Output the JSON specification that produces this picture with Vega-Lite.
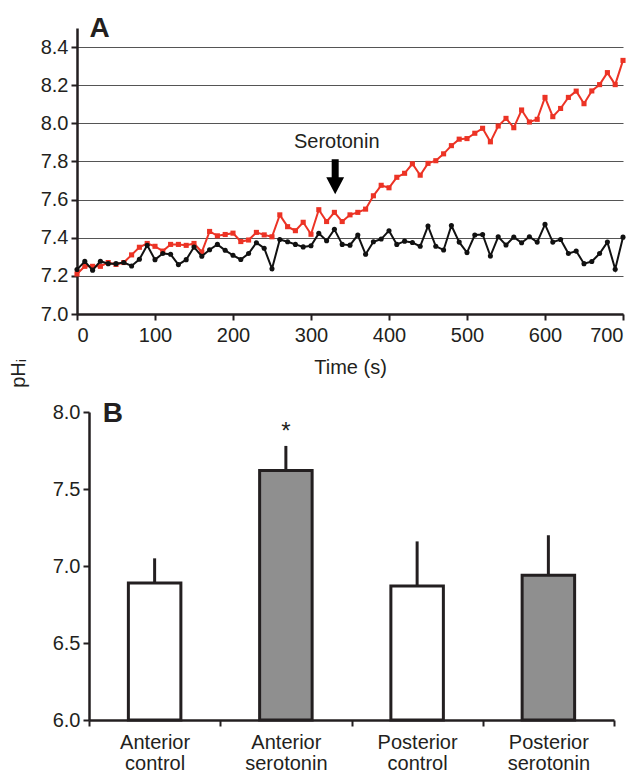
{
  "$schema": "https://vega.github.io/schema/vega-lite/v6.json",
  "padding": {"left": 8, "top": 15, "right": 10, "bottom": 0},
  "spacing": 12,
  "config": {
    "font": "Liberation Sans",
    "view": {"stroke": null},
    "axis": {
      "domainColor": "#231f20", "domainWidth": 2.5,
      "tickColor": "#231f20", "tickWidth": 2, "tickSize": 6,
      "labelFontSize": 20, "labelColor": "#231f20",
      "titleFontSize": 20, "titleFontWeight": "normal", "titleColor": "#231f20"
    }
  },
  "datasets": {
    "ph": [
      {"t":0,"s":"serotonin","pH":7.21},{"t":10,"s":"serotonin","pH":7.25},{"t":20,"s":"serotonin","pH":7.25},{"t":30,"s":"serotonin","pH":7.25},{"t":40,"s":"serotonin","pH":7.27},{"t":50,"s":"serotonin","pH":7.26},{"t":60,"s":"serotonin","pH":7.27},{"t":70,"s":"serotonin","pH":7.31},{"t":80,"s":"serotonin","pH":7.35},{"t":90,"s":"serotonin","pH":7.37},
      {"t":100,"s":"serotonin","pH":7.355},{"t":110,"s":"serotonin","pH":7.33},{"t":120,"s":"serotonin","pH":7.365},{"t":130,"s":"serotonin","pH":7.365},{"t":140,"s":"serotonin","pH":7.36},{"t":150,"s":"serotonin","pH":7.37},{"t":160,"s":"serotonin","pH":7.325},{"t":170,"s":"serotonin","pH":7.433},{"t":180,"s":"serotonin","pH":7.41},{"t":190,"s":"serotonin","pH":7.417},
      {"t":200,"s":"serotonin","pH":7.424},{"t":210,"s":"serotonin","pH":7.38},{"t":220,"s":"serotonin","pH":7.388},{"t":230,"s":"serotonin","pH":7.428},{"t":240,"s":"serotonin","pH":7.415},{"t":250,"s":"serotonin","pH":7.405},{"t":260,"s":"serotonin","pH":7.52},{"t":270,"s":"serotonin","pH":7.458},{"t":280,"s":"serotonin","pH":7.437},{"t":290,"s":"serotonin","pH":7.481},
      {"t":300,"s":"serotonin","pH":7.418},{"t":310,"s":"serotonin","pH":7.547},{"t":320,"s":"serotonin","pH":7.485},{"t":330,"s":"serotonin","pH":7.533},{"t":340,"s":"serotonin","pH":7.485},{"t":350,"s":"serotonin","pH":7.52},{"t":360,"s":"serotonin","pH":7.533},{"t":370,"s":"serotonin","pH":7.55},{"t":380,"s":"serotonin","pH":7.62},{"t":390,"s":"serotonin","pH":7.675},
      {"t":400,"s":"serotonin","pH":7.662},{"t":410,"s":"serotonin","pH":7.717},{"t":420,"s":"serotonin","pH":7.738},{"t":430,"s":"serotonin","pH":7.788},{"t":440,"s":"serotonin","pH":7.728},{"t":450,"s":"serotonin","pH":7.79},{"t":460,"s":"serotonin","pH":7.804},{"t":470,"s":"serotonin","pH":7.84},{"t":480,"s":"serotonin","pH":7.883},{"t":490,"s":"serotonin","pH":7.917},
      {"t":500,"s":"serotonin","pH":7.92},{"t":510,"s":"serotonin","pH":7.948},{"t":520,"s":"serotonin","pH":7.974},{"t":530,"s":"serotonin","pH":7.903},{"t":540,"s":"serotonin","pH":7.986},{"t":550,"s":"serotonin","pH":8.026},{"t":560,"s":"serotonin","pH":7.977},{"t":570,"s":"serotonin","pH":8.07},{"t":580,"s":"serotonin","pH":8.007},{"t":590,"s":"serotonin","pH":8.021},
      {"t":600,"s":"serotonin","pH":8.136},{"t":610,"s":"serotonin","pH":8.035},{"t":620,"s":"serotonin","pH":8.078},{"t":630,"s":"serotonin","pH":8.136},{"t":640,"s":"serotonin","pH":8.169},{"t":650,"s":"serotonin","pH":8.103},{"t":660,"s":"serotonin","pH":8.17},{"t":670,"s":"serotonin","pH":8.203},{"t":680,"s":"serotonin","pH":8.266},{"t":690,"s":"serotonin","pH":8.203},{"t":700,"s":"serotonin","pH":8.33},
      {"t":0,"s":"control","pH":7.233},{"t":10,"s":"control","pH":7.276},{"t":20,"s":"control","pH":7.23},{"t":30,"s":"control","pH":7.277},{"t":40,"s":"control","pH":7.264},{"t":50,"s":"control","pH":7.264},{"t":60,"s":"control","pH":7.27},{"t":70,"s":"control","pH":7.252},{"t":80,"s":"control","pH":7.287},{"t":90,"s":"control","pH":7.36},
      {"t":100,"s":"control","pH":7.285},{"t":110,"s":"control","pH":7.317},{"t":120,"s":"control","pH":7.313},{"t":130,"s":"control","pH":7.259},{"t":140,"s":"control","pH":7.285},{"t":150,"s":"control","pH":7.351},{"t":160,"s":"control","pH":7.303},{"t":170,"s":"control","pH":7.337},{"t":180,"s":"control","pH":7.365},{"t":190,"s":"control","pH":7.334},
      {"t":200,"s":"control","pH":7.308},{"t":210,"s":"control","pH":7.286},{"t":220,"s":"control","pH":7.317},{"t":230,"s":"control","pH":7.374},{"t":240,"s":"control","pH":7.345},{"t":250,"s":"control","pH":7.237},{"t":260,"s":"control","pH":7.391},{"t":270,"s":"control","pH":7.379},{"t":280,"s":"control","pH":7.365},{"t":290,"s":"control","pH":7.352},
      {"t":300,"s":"control","pH":7.358},{"t":310,"s":"control","pH":7.423},{"t":320,"s":"control","pH":7.384},{"t":330,"s":"control","pH":7.444},{"t":340,"s":"control","pH":7.365},{"t":350,"s":"control","pH":7.361},{"t":360,"s":"control","pH":7.414},{"t":370,"s":"control","pH":7.313},{"t":380,"s":"control","pH":7.379},{"t":390,"s":"control","pH":7.393},
      {"t":400,"s":"control","pH":7.437},{"t":410,"s":"control","pH":7.365},{"t":420,"s":"control","pH":7.382},{"t":430,"s":"control","pH":7.375},{"t":440,"s":"control","pH":7.355},{"t":450,"s":"control","pH":7.461},{"t":460,"s":"control","pH":7.355},{"t":470,"s":"control","pH":7.336},{"t":480,"s":"control","pH":7.464},{"t":490,"s":"control","pH":7.377},
      {"t":500,"s":"control","pH":7.322},{"t":510,"s":"control","pH":7.414},{"t":520,"s":"control","pH":7.417},{"t":530,"s":"control","pH":7.304},{"t":540,"s":"control","pH":7.405},{"t":550,"s":"control","pH":7.362},{"t":560,"s":"control","pH":7.403},{"t":570,"s":"control","pH":7.374},{"t":580,"s":"control","pH":7.405},{"t":590,"s":"control","pH":7.377},
      {"t":600,"s":"control","pH":7.47},{"t":610,"s":"control","pH":7.377},{"t":620,"s":"control","pH":7.391},{"t":630,"s":"control","pH":7.317},{"t":640,"s":"control","pH":7.33},{"t":650,"s":"control","pH":7.264},{"t":660,"s":"control","pH":7.275},{"t":670,"s":"control","pH":7.317},{"t":680,"s":"control","pH":7.377},{"t":690,"s":"control","pH":7.235},{"t":700,"s":"control","pH":7.403}
    ],
    "bars": [
      {"group":"Anterior control","treatment":"control","mean":6.89,"upper":7.04,"sig":""},
      {"group":"Anterior serotonin","treatment":"serotonin","mean":7.62,"upper":7.77,"sig":"*"},
      {"group":"Posterior control","treatment":"control","mean":6.87,"upper":7.15,"sig":""},
      {"group":"Posterior serotonin","treatment":"serotonin","mean":6.94,"upper":7.19,"sig":""}
    ]
  },
  "vconcat": [
    {
      "width": 546,
      "height": 286,
      "encoding": {
        "x": {"field": "t", "type": "quantitative", "scale": {"domain": [0, 700], "nice": false},
              "axis": {"values": [0,100,200,300,400,500,600,700], "title": "Time (s)", "grid": false, "labelPadding": 5, "titlePadding": 12}},
        "y": {"field": "pH", "type": "quantitative", "scale": {"domain": [7.0, 8.5], "nice": false, "zero": false},
              "axis": {"values": [7.0,7.2,7.4,7.6,7.8,8.0,8.2,8.4], "format": ".1f", "grid": true, "gridColor": "#555555", "gridWidth": 1.2,
                       "labelPadding": 3, "title": "pHᵢ", "titleAngle": -90, "titleX": -59, "titleY": 345, "titleAlign": "center", "titleBaseline": "middle"}}
      },
      "layer": [
        {
          "data": {"name": "ph"},
          "transform": [{"filter": "datum.s == 'serotonin'"}],
          "mark": {"type": "line", "color": "#ec3325", "strokeWidth": 2,
                   "point": {"shape": "square", "size": 26, "color": "#ec3325", "filled": true}}
        },
        {
          "data": {"name": "ph"},
          "transform": [{"filter": "datum.s == 'control'"}],
          "mark": {"type": "line", "color": "#111111", "strokeWidth": 2,
                   "point": {"shape": "circle", "size": 26, "color": "#111111", "filled": true}}
        },
        {
          "data": {"values": [{"t": 333, "pH": 7.9, "label": "Serotonin"}]},
          "mark": {"type": "text", "fontSize": 20, "color": "#231f20", "align": "center", "baseline": "middle"},
          "encoding": {"text": {"field": "label"}}
        },
        {
          "data": {"values": [{"t": 16, "pH": 8.452, "label": "A"}]},
          "mark": {"type": "text", "fontSize": 28, "fontWeight": "bold", "color": "#231f20", "align": "left", "baseline": "alphabetic"},
          "encoding": {"text": {"field": "label"}}
        },
        {
          "data": {"values": [{"t": 331, "pH": 7.72}]},
          "mark": {"type": "point", "filled": true, "color": "#000000", "opacity": 1, "size": 1225,
                   "shape": "M-0.2,-1L0.2,-1L0.2,0.03L0.51,0.03L0,1L-0.51,0.03L-0.2,0.03Z"}
        }
      ]
    },
    {
      "width": 537,
      "height": 308,
      "data": {"name": "bars"},
      "encoding": {
        "x": {"field": "group", "type": "nominal", "sort": null,
              "scale": {"range": [12, 537], "paddingInner": 0, "paddingOuter": 0},
              "axis": {"title": null, "labelAngle": 0, "tickBand": "extent", "labelExpr": "split(datum.label, ' ')", "labelLineHeight": 21, "labelPadding": 6}},
        "y": {"field": "mean", "type": "quantitative", "scale": {"domain": [6, 8], "nice": false, "zero": false},
              "axis": {"values": [6, 6.5, 7, 7.5, 8], "format": ".1f", "grid": false, "title": null, "offset": -12, "labelPadding": 3}}
      },
      "layer": [
        {
          "mark": {"type": "rule", "strokeWidth": 3, "color": "#231f20", "strokeCap": "square"},
          "encoding": {"y2": {"field": "upper"}}
        },
        {
          "mark": {"type": "bar", "width": {"band": 0.4}, "stroke": "#231f20", "strokeWidth": 3},
          "encoding": {
            "y2": {"datum": 6},
            "fill": {"field": "treatment", "type": "nominal", "scale": {"domain": ["control", "serotonin"], "range": ["#ffffff", "#8f8f8f"]}, "legend": null}
          }
        },
        {
          "mark": {"type": "text", "fontSize": 24, "dy": -32, "baseline": "alphabetic", "color": "#231f20"},
          "encoding": {"text": {"field": "sig"}}
        },
        {
          "data": {"values": [{"group": "Anterior control", "mean": 7.935, "label": "B"}]},
          "mark": {"type": "text", "fontSize": 28, "fontWeight": "bold", "color": "#231f20", "align": "left", "baseline": "alphabetic", "dx": -52},
          "encoding": {"text": {"field": "label"}}
        }
      ]
    }
  ]
}
